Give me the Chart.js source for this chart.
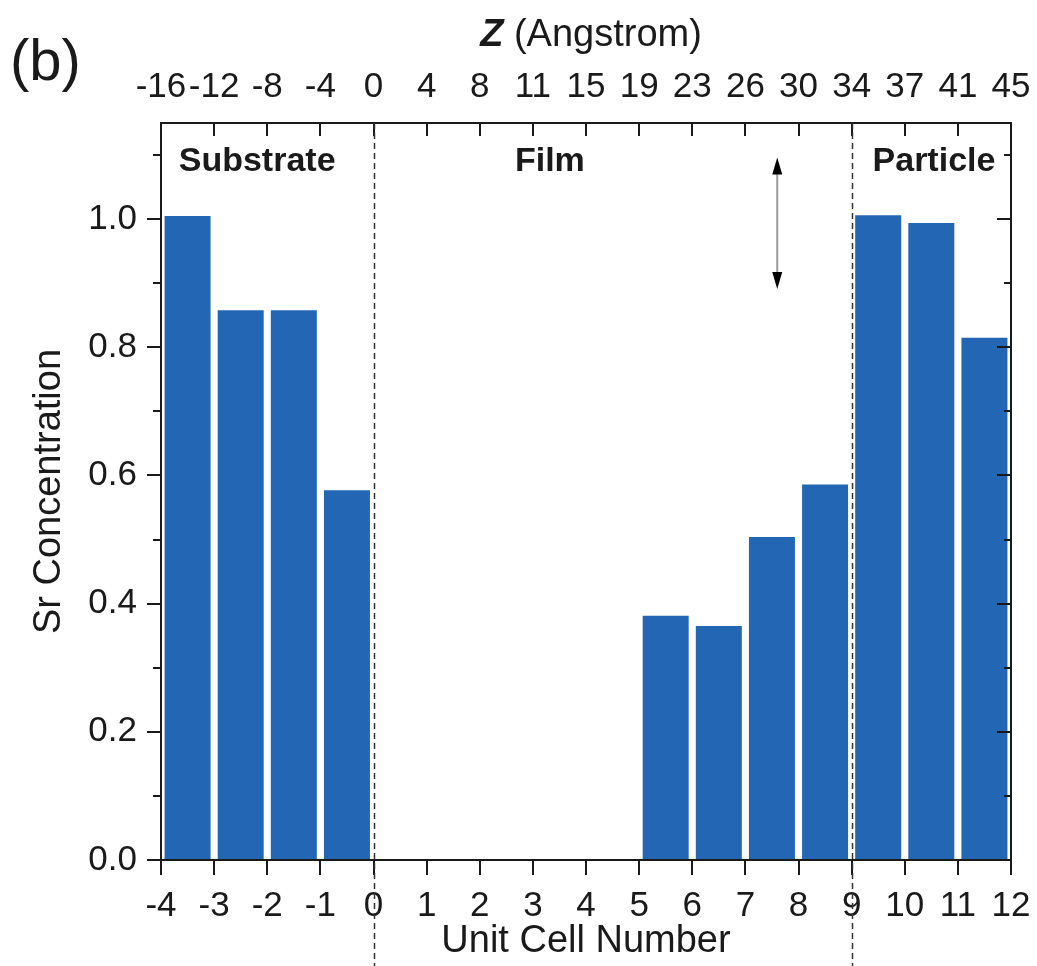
<!DOCTYPE html>
<html>
<head>
<meta charset="utf-8">
<script src="https://cdn.jsdelivr.net/npm/chart.js@4.4.1/dist/chart.umd.min.js"></script>
<style>
  html, body { margin:0; padding:0; background:#fff; }
  canvas { display:block; }
</style>
</head>
<body>
<canvas id="srChart" width="1037" height="966"></canvas>
<script>
// bars sit between the integer unit-cell boundaries
const cellCenters = [-3.5,-2.5,-1.5,-0.5,0.5,1.5,2.5,3.5,4.5,5.5,6.5,7.5,8.5,9.5,10.5,11.5];
const srConc      = [1.005,0.858,0.858,0.577,0,0,0,0,0,0.381,0.365,0.504,0.586,1.006,0.994,0.815];
// top axis: Z in Angstrom at each unit cell boundary -4..12
const zLabels = ['-16','-12','-8','-4','0','4','8','11','15','19','23','26','30','34','37','41','45'];
const boundaries = [0, 9];
const regionNames = ['Substrate','Film','Particle'];
const regionX = [-2.19, 3.32, 10.55];
const regionY = 1.089;
const arrowX = 7.6, arrowTop = 1.096, arrowBottom = 0.891;

const FONT = '"Liberation Sans", Arial, sans-serif';
const INK = '#1a1a1a';

const decor = {
  id: 'decor',
  afterDraw(chart) {
    const { ctx, chartArea: a, scales: { x, y } } = chart;
    ctx.save();
    ctx.strokeStyle = INK;
    ctx.lineWidth = 2;
    // tick marks: left outward, right inward, bottom outward, top inward
    ctx.beginPath();
    y.ticks.forEach(t => {
      const py = Math.round(y.getPixelForValue(t.value));
      const major = Math.round(t.value * 10) % 2 === 0;
      ctx.moveTo(a.left - (major ? 14 : 8), py); ctx.lineTo(a.left, py);
      ctx.moveTo(a.right - (major ? 14 : 7), py); ctx.lineTo(a.right, py);
    });
    x.ticks.forEach(t => {
      const px = Math.round(x.getPixelForValue(t.value));
      ctx.moveTo(px, a.bottom); ctx.lineTo(px, a.bottom + 15);
      ctx.moveTo(px, a.top); ctx.lineTo(px, a.top + 13);
    });
    ctx.stroke();
    ctx.strokeRect(a.left, a.top, a.right - a.left, a.bottom - a.top);

    // dashed region boundaries
    ctx.setLineDash([6, 4]);
    ctx.lineWidth = 1.5;
    ctx.strokeStyle = '#333';
    boundaries.forEach(b => {
      const px = Math.round(x.getPixelForValue(b)) + 0.5;
      ctx.beginPath(); ctx.moveTo(px, a.top); ctx.lineTo(px, chart.height); ctx.stroke();
    });
    ctx.setLineDash([]);

    // double arrow
    const ax = x.getPixelForValue(arrowX);
    const y1 = y.getPixelForValue(arrowTop), y2 = y.getPixelForValue(arrowBottom);
    ctx.strokeStyle = '#9a9a9a';
    ctx.lineWidth = 2;
    ctx.beginPath(); ctx.moveTo(ax, y1 + 12); ctx.lineTo(ax, y2 - 12); ctx.stroke();
    ctx.fillStyle = '#000';
    ctx.beginPath(); ctx.moveTo(ax, y1); ctx.lineTo(ax - 5, y1 + 17); ctx.lineTo(ax + 5, y1 + 17); ctx.closePath(); ctx.fill();
    ctx.beginPath(); ctx.moveTo(ax, y2); ctx.lineTo(ax - 5, y2 - 17); ctx.lineTo(ax + 5, y2 - 17); ctx.closePath(); ctx.fill();

    // region names
    ctx.fillStyle = INK;
    ctx.font = 'bold 34px ' + FONT;
    ctx.textAlign = 'center';
    ctx.textBaseline = 'middle';
    regionNames.forEach((n, i) => ctx.fillText(n, x.getPixelForValue(regionX[i]), y.getPixelForValue(regionY)));

    // top axis title: bold italic Z + (Angstrom)
    ctx.textAlign = 'left';
    ctx.font = 'italic bold 38px ' + FONT;
    const wZ = ctx.measureText('Z').width;
    ctx.font = '38px ' + FONT;
    const wRest = ctx.measureText(' (Angstrom)').width;
    const x0 = (a.left + a.right) / 2 + 5 - (wZ + wRest) / 2;
    ctx.font = 'italic bold 38px ' + FONT;
    ctx.fillText('Z', x0, 36);
    ctx.font = '38px ' + FONT;
    ctx.fillText(' (Angstrom)', x0 + wZ, 36);

    // panel label
    ctx.font = '58px ' + FONT;
    ctx.fillText('(b)', 10, 64);
    ctx.restore();
  }
};

const noSidePad = s => { s.paddingLeft = 0; s.paddingRight = 0; };

new Chart(document.getElementById('srChart'), {
  type: 'bar',
  data: {
    datasets: [{
      label: 'Sr Concentration',
      data: cellCenters.map((c, i) => ({ x: c, y: srConc[i] })),
      backgroundColor: '#2366b3',
      borderWidth: 0,
      barPercentage: 0.866,
      categoryPercentage: 1.0
    }]
  },
  options: {
    responsive: false,
    animation: false,
    layout: { padding: { left: 0, right: 26, top: 0, bottom: 0 } },
    plugins: { legend: { display: false }, tooltip: { enabled: false } },
    scales: {
      x: {
        type: 'linear', position: 'bottom', min: -4, max: 12, offset: false,
        grid: { display: false, offset: false }, border: { display: false },
        ticks: { stepSize: 1, autoSkip: false, maxRotation: 0, padding: 17, color: INK,
                 font: { family: FONT, size: 35 } },
        title: { display: true, text: 'Unit Cell Number', color: INK,
                 font: { family: FONT, size: 38 }, padding: { top: 0, bottom: 2 } },
        afterFit: s => { s.height = 106; noSidePad(s); }
      },
      x2: {
        type: 'linear', position: 'top', min: -4, max: 12, offset: false,
        grid: { display: false, offset: false }, border: { display: false },
        ticks: { stepSize: 1, autoSkip: false, maxRotation: 0, padding: 7, color: INK,
                 font: { family: FONT, size: 35 },
                 callback: (v, i) => zLabels[i] },
        afterFit: s => { s.height = 123; noSidePad(s); }
      },
      y: {
        min: 0, max: 1.15,
        grid: { display: false }, border: { display: false },
        ticks: { stepSize: 0.1, includeBounds: false, padding: 16, color: INK,
                 font: { family: FONT, size: 35 },
                 callback: v => Math.round(v * 10) % 2 === 0 ? v.toFixed(1) : '' },
        title: { display: true, text: 'Sr Concentration', color: INK,
                 font: { family: FONT, size: 38 }, padding: { top: 27, bottom: 0 } },
        afterFit: s => { s.width = 161; s.paddingTop = 0; s.paddingBottom = 0; }
      }
    }
  },
  plugins: [decor]
});
</script>
</body>
</html>
